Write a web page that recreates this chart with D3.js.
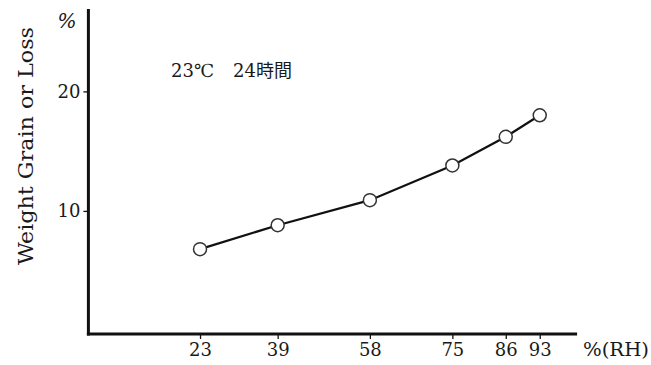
<!DOCTYPE html>
<html><head><meta charset="utf-8">
<script src="https://cdn.jsdelivr.net/npm/d3@7"></script>
<style>
body{margin:0;background:#fff;}
svg text{font-family:"DejaVu Serif","Liberation Serif","Noto Sans CJK JP",serif;fill:#1a1a1a;}
</style></head><body>
<script>
const rh = [23, 39, 58, 75, 86, 93];
const gain = [6.8, 8.8, 10.9, 13.8, 16.2, 18.0];
const yTicks = [10, 20];
const xTickLabels = ["23", "39", "58", "75", "86", "93"];

const W = 651, H = 365;
const svg = d3.select("body").append("svg").attr("width", W).attr("height", H);

const x = d3.scaleLinear().domain([0, 100]).range([88.4, 573.7]);
const y = d3.scaleLinear().domain([0, 20]).range([330.4, 91.4]);

const xAxis = d3.axisBottom(x).tickValues(rh).tickFormat((d,i)=>xTickLabels[i]).tickSize(5).tickSizeOuter(0).tickPadding(4);
const gx = svg.append("g").attr("transform", `translate(0,${y(-0.3)})`).call(xAxis);
gx.select(".domain").remove();
gx.selectAll(".tick line").attr("stroke", "#111").attr("stroke-width", 1.3);
gx.selectAll(".tick text").style("font-size", "18px").attr("dy", "0.71em");

const yAxis = d3.axisLeft(y).tickValues(yTicks).tickSize(5).tickSizeOuter(0).tickPadding(3);
const gy = svg.append("g").attr("transform", `translate(${x(0)},0)`).call(yAxis);
gy.select(".domain").remove();
gy.selectAll(".tick line").attr("stroke", "#111").attr("stroke-width", 1.3);
gy.selectAll(".tick text").style("font-size", "18px");

svg.append("line").attr("x1", x(0)).attr("x2", x(0)).attr("y1", y(26.9)).attr("y2", y(-0.3)+1.5)
  .attr("stroke", "#111").attr("stroke-width", 3);
svg.append("line").attr("x1", x(0)-1.5).attr("x2", x(100.7)).attr("y1", y(-0.3)).attr("y2", y(-0.3))
  .attr("stroke", "#111").attr("stroke-width", 3);

const line = d3.line().x((d,i)=>x(rh[i])).y(d=>y(d));
svg.append("path").datum(gain).attr("d", line).attr("fill", "none").attr("stroke", "#111").attr("stroke-width", 2.2);

svg.selectAll("circle.pt").data(gain).enter().append("circle").attr("class","pt")
  .attr("cx", (d,i)=>x(rh[i])).attr("cy", d=>y(d)).attr("r", 6.5)
  .attr("fill", "#fff").attr("stroke", "#333").attr("stroke-width", 1.5);

svg.append("text").attr("x", 67).attr("y", 28).attr("text-anchor", "middle").style("font-size", "20px").style("font-style","italic").text("%");
svg.append("text").attr("transform", "translate(33,146) rotate(-90)").attr("text-anchor", "middle")
  .style("font-size", "20px").attr("textLength", 238).attr("lengthAdjust", "spacingAndGlyphs").text("Weight Grain or Loss");
svg.append("text").attr("x", 583).attr("y", 356).style("font-size", "18px").attr("textLength", 66).attr("lengthAdjust", "spacingAndGlyphs").text("%(RH)");
const ann = svg.append("text").attr("y", 77).style("font-size", "18px");
ann.append("tspan").attr("x", 171).text("23℃");
ann.append("tspan").attr("x", 233).text("24時間");
</script>
</body></html>
